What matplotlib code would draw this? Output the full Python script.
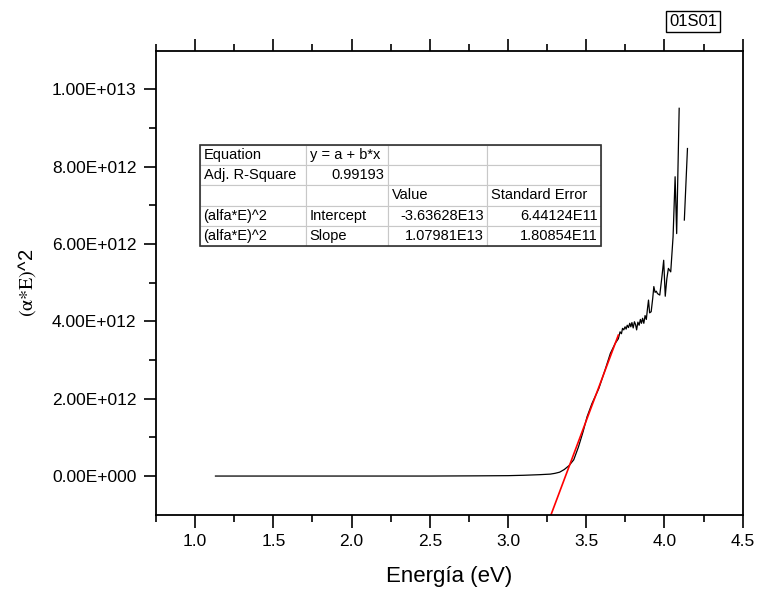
import numpy as np
import matplotlib
matplotlib.use('Agg')
import matplotlib.pyplot as plt
from matplotlib.patches import Rectangle
from matplotlib.ticker import FuncFormatter, MultipleLocator, FixedLocator

plt.rcParams['font.family'] = ['Liberation Sans', 'DejaVu Sans']
plt.rcParams['mathtext.fontset'] = 'stix'

# Tauc plot data: photon energy (eV) and (alpha*E)^2 in units of 1e12
energy = [1.13, 1.5, 2.0, 2.5, 2.8, 3.0, 3.1, 3.2, 3.27, 3.30, 3.33, 3.36,
          3.39, 3.42, 3.45, 3.48, 3.505, 3.536, 3.58, 3.62, 3.654, 3.685,
          3.705, 3.716, 3.725, 3.732, 3.740, 3.748, 3.755, 3.762, 3.770,
          3.778, 3.785, 3.792, 3.800, 3.808, 3.815, 3.822, 3.830, 3.838,
          3.846, 3.853, 3.860, 3.868, 3.876, 3.884, 3.892, 3.898, 3.905,
          3.915, 3.925, 3.932, 3.940, 3.948, 3.955, 3.962, 3.970, 3.985,
          3.995, 4.005, 4.015, 4.025, 4.040, 4.055, 4.068, 4.078, 4.094,
          np.nan, 4.127, 4.147]
alpha_e2 = [0.0, 0.0, 0.0, 0.0, 0.005, 0.01, 0.02, 0.035, 0.05, 0.07, 0.10,
            0.17, 0.27, 0.42, 0.75, 1.15, 1.53, 1.87, 2.26, 2.74, 3.17, 3.43,
            3.55, 3.73, 3.68, 3.82, 3.78, 3.86, 3.80, 3.90, 3.84, 3.95, 3.86,
            3.97, 3.83, 3.99, 3.92, 3.78, 3.98, 3.90, 4.05, 3.95, 4.08, 3.95,
            4.15, 4.05, 4.35, 4.55, 4.22, 4.25, 4.60, 4.90, 4.75, 4.78, 4.72,
            4.70, 4.68, 5.20, 5.58, 4.65, 5.10, 5.37, 5.28, 6.19, 7.74, 6.27,
            9.51, np.nan, 6.62, 8.47]

# linear fit results
intercept = -3.63628e13
slope = 1.07981e13
fit_range = [3.22, 3.705]

table_rows = [
    ['Equation', 'y = a + b*x', '', ''],
    ['Adj. R-Square', '0.99193', '', ''],
    ['', '', 'Value', 'Standard Error'],
    ['(alfa*E)^2', 'Intercept', '-3.63628E13', '6.44124E11'],
    ['(alfa*E)^2', 'Slope', '1.07981E13', '1.80854E11'],
]
table_align = [
    ['left', 'left', 'left', 'left'],
    ['left', 'right', 'left', 'left'],
    ['left', 'left', 'left', 'left'],
    ['left', 'left', 'right', 'right'],
    ['left', 'left', 'right', 'right'],
]
col_px = [106, 82, 99, 114]


def sci_fmt(v, pos):
    if v == 0:
        return '0.00E+000'
    exp = int(np.floor(np.log10(abs(v))))
    return '%.2fE%+04d' % (v / 10**exp, exp)


fig = plt.figure(figsize=(7.57, 5.90), dpi=100)
ax = fig.add_axes([0.2061, 0.1276, 0.775, 0.7865])

ax.plot(energy, np.array(alpha_e2) * 1e12, color='black', lw=0.9)
fx = np.array(fit_range)
ax.plot(fx, intercept + slope * fx, color='red', lw=1.2)

ax.set_xlim(0.75, 4.5)
ax.set_ylim(-1e12, 1.1e13)
ax.xaxis.set_major_locator(MultipleLocator(0.5))
ax.xaxis.set_minor_locator(FixedLocator(np.arange(0.75, 4.5, 0.5)))
ax.xaxis.set_major_formatter(FuncFormatter(lambda v, p: '%.1f' % v))
ax.yaxis.set_major_locator(FixedLocator(np.arange(0, 1.01e13, 2e12)))
ax.yaxis.set_minor_locator(FixedLocator(np.arange(1e12, 1.1e13, 2e12)))
ax.yaxis.set_major_formatter(FuncFormatter(sci_fmt))

ax.tick_params(which='both', direction='out', top=True, right=False,
               labelsize=12.5, width=1.2, pad=5)
ax.tick_params(which='major', length=9)
ax.tick_params(which='minor', length=5)
for s in ax.spines.values():
    s.set_linewidth(1.3)

ax.set_xlabel('Energía (eV)', fontsize=16, labelpad=12)
ax.set_ylabel(r'$\mathrm{(\alpha{*}E)}$^2', fontsize=14.5, labelpad=10)

# fit report table
tbl = ax.table(cellText=table_rows, colWidths=[c / sum(col_px) for c in col_px],
               bbox=[0.075, 0.579, 0.6835, 0.218], zorder=5)
tbl.auto_set_font_size(False)
tbl.set_fontsize(10.5)
for (r, c), cell in tbl.get_celld().items():
    cell.set_edgecolor('#c8c8c8')
    cell.set_linewidth(0.8)
    cell.PAD = 3.5 / col_px[c]
    cell.get_text().set_horizontalalignment(table_align[r][c])
ax.add_patch(Rectangle((0.075, 0.579), 0.6835, 0.218, transform=ax.transAxes,
                       fill=False, edgecolor='#303030', lw=1.2, zorder=6))

fig.text(0.9155, 0.9636, '01S01', fontsize=12, ha='center', va='center',
         bbox=dict(boxstyle='square,pad=0.18', fc='white', ec='black', lw=1))

fig.savefig('out.png', dpi=100)
